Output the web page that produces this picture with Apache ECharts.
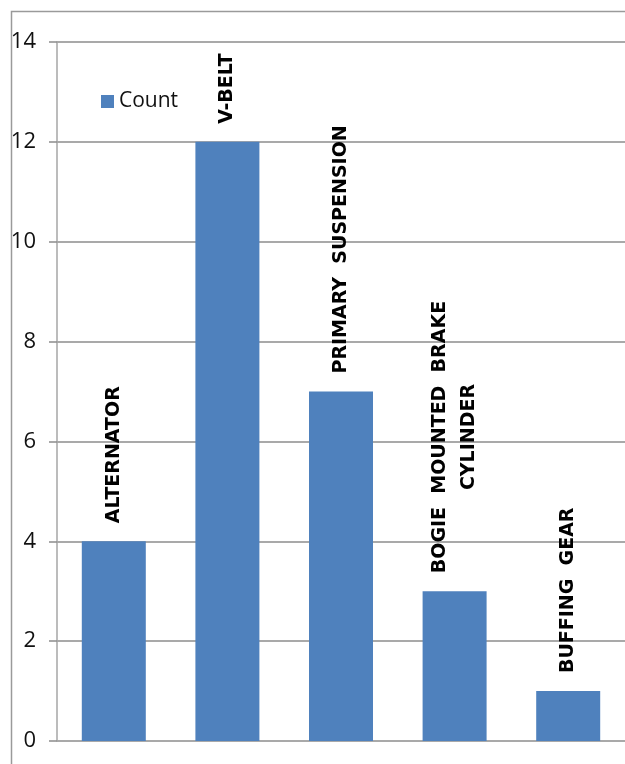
<!DOCTYPE html>
<html>
<head>
<meta charset="utf-8">
<script src="https://cdn.jsdelivr.net/npm/echarts@6/dist/echarts.min.js"></script>
<style>
  html, body { margin: 0; padding: 0; background: #fff; }
  #chart { width: 625px; height: 764px; }
</style>
</head>
<body>
<div id="chart"></div>
<script>
// failure counts per component
const categories = [
  "ALTERNATOR",
  "V-BELT",
  "PRIMARY  SUSPENSION",
  "BOGIE  MOUNTED  BRAKE\nCYLINDER",
  "BUFFING  GEAR"
];
const counts = [4, 12, 7, 3, 1];
const yMin = 0;
const yMax = 14;
const yStep = 2;

const gridColor = "#8c8c8c";

const chart = echarts.init(document.getElementById("chart"));

const option = {
  animation: false,
  backgroundColor: "#fff",
  graphic: [
    {
      type: "rect",
      shape: { x: 11.5, y: 11.5, width: 700, height: 800 },
      style: { fill: "none", stroke: "#9a9a9a", lineWidth: 1.5 },
      silent: true
    }
  ],
  grid: {
    left: 57,
    top: 42,
    width: 570,
    height: 699
  },
  legend: {
    left: 96,
    top: 86,
    itemWidth: 13,
    itemHeight: 13,
    itemGap: 6,
    icon: "rect",
    textStyle: {
      fontFamily: "Open Sans",
      fontSize: 21,
      color: "#111"
    },
    data: ["Count"]
  },
  xAxis: {
    type: "category",
    data: categories,
    axisLine: { show: false },
    axisTick: { show: false },
    axisLabel: { show: false },
    splitLine: { show: false }
  },
  yAxis: {
    type: "value",
    min: yMin,
    max: yMax,
    interval: yStep,
    axisLine: {
      show: true,
      lineStyle: { color: "#a6a6a6", width: 1.5 }
    },
    axisTick: {
      show: true,
      length: 8,
      lineStyle: { color: gridColor, width: 1.5 }
    },
    axisLabel: {
      margin: 21,
      fontFamily: "Open Sans",
      fontSize: 22,
      color: "#111"
    },
    splitLine: {
      show: true,
      lineStyle: { color: gridColor, width: 1.5 }
    }
  },
  series: [
    {
      name: "Count",
      type: "bar",
      data: counts,
      barWidth: 64,
      itemStyle: { color: "#4f81bd" },
      label: {
        show: true,
        position: "top",
        distance: 18,
        rotate: 90,
        align: "left",
        verticalAlign: "middle",
        formatter: p => "{a|" + p.name.split("\n").join("}\n{a|") + "}",
        rich: {
          a: {
            fontFamily: "DejaVu Sans",
            fontWeight: "bold",
            fontSize: 19,
            lineHeight: 29,
            color: "#000",
            align: "center"
          }
        }
      }
    }
  ]
};

chart.setOption(option);
window.addEventListener("resize", function() {
  chart.resize();
});
</script>
</body>
</html>
